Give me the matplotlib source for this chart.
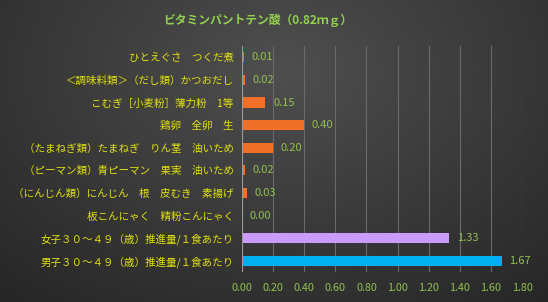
import numpy as np
import matplotlib.pyplot as plt

plt.rcParams['font.family'] = ['Noto Sans CJK JP', 'DejaVu Sans']

# data (top to bottom)
labels = [
    "ひとえぐさ　つくだ煮",
    "＜調味料類＞（だし類）かつおだし",
    "こむぎ［小麦粉］薄力粉　1等",
    "鶏卵　全卵　生",
    "（たまねぎ類）たまねぎ　りん茎　油いため",
    "（ピーマン類）青ピーマン　果実　油いため",
    "（にんじん類）にんじん　根　皮むき　素揚げ",
    "板こんにゃく　精粉こんにゃく",
    "女子３０～４９（歳）推進量/１食あたり",
    "男子３０～４９（歳）推進量/１食あたり",
]
values = [0.01, 0.02, 0.15, 0.40, 0.20, 0.02, 0.03, 0.00, 1.33, 1.67]
colors = ["#F07028"] * 8 + ["#CC99FF", "#00B0F0"]
xticks = [0.0, 0.2, 0.4, 0.6, 0.8, 1.0, 1.2, 1.4, 1.6, 1.8]

fig = plt.figure(figsize=(5.48, 3.02), dpi=100)

# background gradient
bg = fig.add_axes([0, 0, 1, 1], zorder=-10)
yy, xx = np.mgrid[0:302, 0:548]
d = np.sqrt(((xx - 280) / 420.0) ** 2 + ((yy - 70) / 300.0) ** 2)
shade = np.clip(0.31 - 0.16 * d, 0.13, 0.31)
bg.imshow(np.dstack([shade, shade, shade]), aspect='auto', extent=[0, 1, 0, 1])
bg.axis('off')

ax = fig.add_axes([242 / 548, 1 - 272 / 302, (522 - 242) / 548, (272 - 46) / 302])
ax.patch.set_alpha(0)

y = np.arange(len(labels))
ax.barh(y, values, height=0.45, color=colors, zorder=3)
ax.set_ylim(len(labels) - 0.5, -0.5)
ax.set_xlim(0, 1.8)
ax.set_xticks(xticks)
ax.set_xticklabels([f"{v:.2f}" for v in xticks], color="#92C050", fontsize=7.8)
ax.set_yticks(y)
ax.set_yticklabels(labels, color="#E0E010", fontsize=7.6)
ax.tick_params(length=0, pad=6)
ax.tick_params(axis='x', pad=8)
ax.grid(axis='x', color="#6a6a6a", linewidth=0.8, zorder=0)
for s in ax.spines.values():
    s.set_visible(False)
ax.axvline(0, color="#9a9a9a", linewidth=0.8, zorder=4)

for yi, v in zip(y, values):
    ax.text(v + 0.05, yi, f"{v:.2f}", va='center', ha='left', color="#92C050", fontsize=8)

fig.text(258 / 548, 1 - 20 / 302, "ビタミンパントテン酸（0.82ｍｇ）", ha='center', va='center',
         color="#92D050", fontsize=8.5, fontweight='bold')

fig.savefig("out.png", dpi=100)
